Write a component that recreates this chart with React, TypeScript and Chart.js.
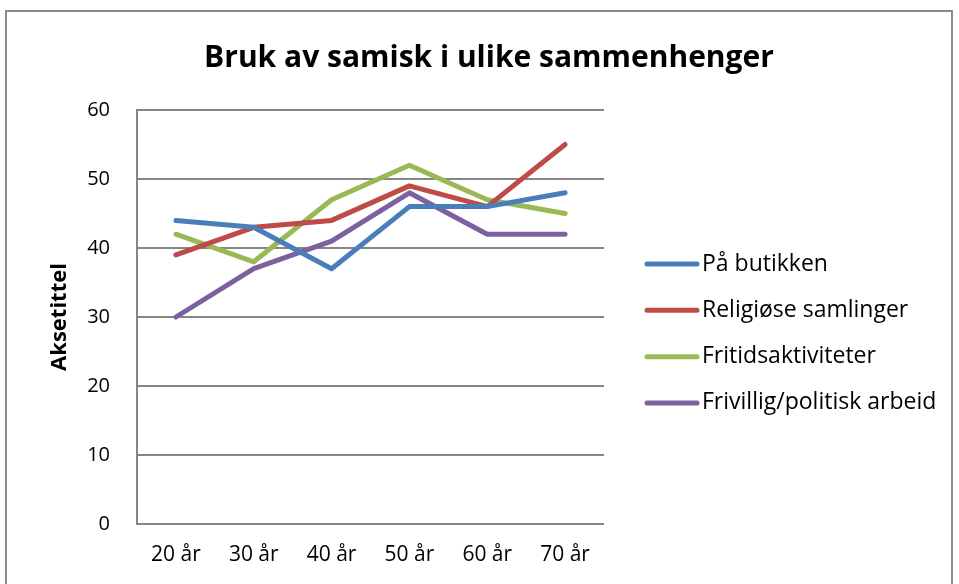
import React, { useEffect, useRef } from "react";
import { Chart, registerables } from "chart.js";

Chart.register(...registerables);

const categories = ["20 år", "30 år", "40 år", "50 år", "60 år", "70 år"];
const paButikken = [44, 43, 37, 46, 46, 48];
const religiose = [39, 43, 44, 49, 46, 55];
const fritid = [42, 38, 47, 52, 47, 45];
const frivillig = [30, 37, 41, 48, 42, 42];
const seriesNames = ["På butikken", "Religiøse samlinger", "Fritidsaktiviteter", "Frivillig/politisk arbeid"];
const seriesColors = ["#4a7ebb", "#be4b48", "#98b954", "#7d60a0"];
const chartTitle = "Bruk av samisk i ulike sammenhenger";
const yTitle = "Aksetittel";

const FONT = "'Open Sans', Lato, sans-serif";

const titlePlugin = {
  id: "customTitle",
  afterDraw(chart: any) {
    const ctx = chart.ctx;
    ctx.save();
    ctx.font = `bold 30px ${FONT}`;
    ctx.fillStyle = "#000";
    ctx.textAlign = "center";
    ctx.textBaseline = "middle";
    ctx.fillText(chartTitle, chart.width / 2 + 9, 46);
    ctx.restore();
  },
};

const legendPlugin = {
  id: "customLegend",
  afterDraw(chart: any) {
    const ctx = chart.ctx;
    const area = chart.chartArea;
    const items = chart.data.datasets;
    const spacing = 46.3;
    const cy = (area.top + area.bottom) / 2 + 16.5;
    const y0 = cy - ((items.length - 1) / 2) * spacing;
    const x0 = area.right + 41;
    ctx.save();
    ctx.font = `23px ${FONT}`;
    ctx.textBaseline = "middle";
    ctx.textAlign = "left";
    items.forEach((ds: any, i: number) => {
      const y = y0 + i * spacing;
      ctx.strokeStyle = ds.borderColor;
      ctx.lineWidth = 5;
      ctx.lineCap = "round";
      ctx.beginPath();
      ctx.moveTo(x0 + 2, y);
      ctx.lineTo(x0 + 52, y);
      ctx.stroke();
      ctx.fillStyle = "#000";
      ctx.fillText(ds.label, x0 + 57, y);
    });
    ctx.restore();
  },
};

export default function App() {
  const ref = useRef<HTMLCanvasElement | null>(null);
  useEffect(() => {
    if (!ref.current) return;
    const data = [paButikken, religiose, fritid, frivillig];
    const chart = new Chart(ref.current, {
      type: "line",
      data: {
        labels: categories,
        datasets: data.map((d, i) => ({
          label: seriesNames[i],
          data: d,
          borderColor: seriesColors[i],
          backgroundColor: seriesColors[i],
          borderWidth: 5,
          pointRadius: 0,
          tension: 0,
          borderCapStyle: "round" as const,
          borderJoinStyle: "round" as const,
        })),
      },
      plugins: [titlePlugin, legendPlugin],
      options: {
        animation: false,
        responsive: false,
        maintainAspectRatio: false,
        layout: { padding: { top: 98, right: 349, bottom: 0, left: 0 } },
        plugins: {
          title: { display: false },
          legend: { display: false },
          tooltip: { enabled: false },
        },
        scales: {
          x: {
            offset: true,
            grid: { display: false, drawTicks: false },
            border: { display: false },
            ticks: { color: "#000", font: { family: FONT, size: 21 }, padding: 18 },
            afterFit: (scale: any) => {
              scale.height = 60;
            },
          },
          y: {
            min: 0,
            max: 60,
            grid: { color: "#868686", lineWidth: 2, drawTicks: false },
            border: { display: true, color: "#868686", width: 2 },
            ticks: { stepSize: 10, color: "#000", font: { family: FONT, size: 20 }, padding: 27 },
            title: {
              display: true,
              text: yTitle,
              color: "#000",
              font: { family: FONT, size: 22, weight: "bold" },
              padding: { top: 40, bottom: 10 },
            },
            afterFit: (scale: any) => {
              scale.width = 130;
            },
          },
        },
      },
    });
    return () => chart.destroy();
  }, []);
  return (
    <div style={{ position: "absolute", left: 0, top: 0, width: 959, height: 584, background: "#fff", overflow: "hidden" }}>
      <div style={{ position: "absolute", left: 5, top: 10, width: 948, height: 590, border: "2px solid #8c8c8c", boxSizing: "border-box" }} />
      <canvas ref={ref} width={946} height={572} style={{ position: "absolute", left: 7, top: 12 }} />
    </div>
  );
}
